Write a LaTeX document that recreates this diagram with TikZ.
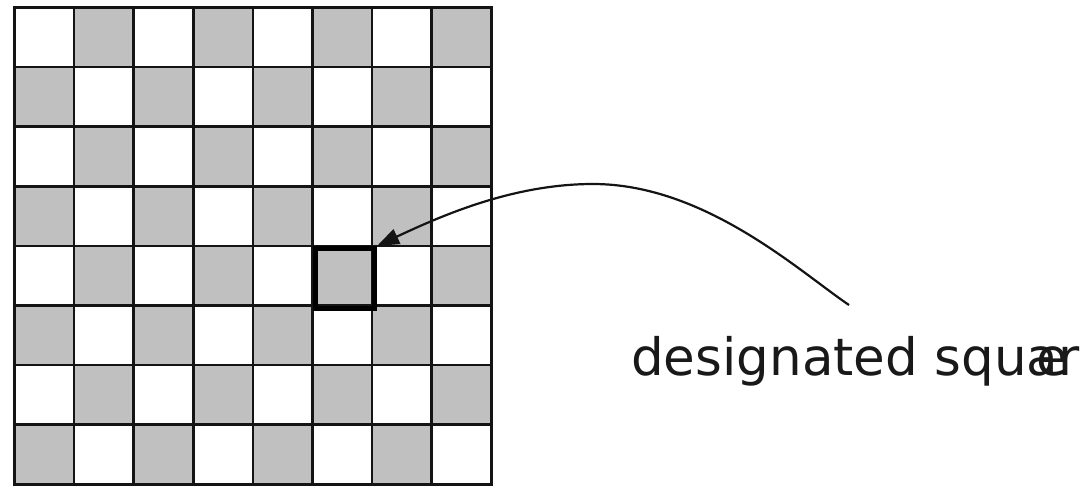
\documentclass[tikz,border=0pt]{standalone}
\usepackage{fontspec}
\setmainfont{DejaVu Sans}
\usetikzlibrary{arrows.meta}
\definecolor{boardgray}{RGB}{192,192,192}
\definecolor{inkline}{RGB}{20,20,20}
\begin{document}
\begin{tikzpicture}[x=1pt,y=-1pt,
  darkcell/.style={fill=boardgray},
  gridline/.style={line width=2.6pt,draw=inkline,line cap=rect},
  marked/.style={draw=black,line width=5pt,minimum size=59.6pt,inner sep=0pt,anchor=north west},
  labeltext/.style={anchor=base west,inner sep=0pt,font=\fontsize{51.5}{62}\selectfont,text=black!90},
  pointer/.style={draw=inkline,line width=2.2pt,-{Triangle[length=22pt,width=16pt]}}]
\useasboundingbox (0,0) rectangle (1089,485);
\def\bx{14.5}\def\by{7.5}\def\cs{59.6}
% board cells
\foreach \r in {0,...,7}{
  \foreach \c in {0,...,7}{
    \pgfmathtruncatemacro\parity{mod(\r+\c,2)}
    \ifnum\parity=1
      \fill[darkcell] (\bx+\c*\cs,\by+\r*\cs) rectangle (\bx+\c*\cs+\cs,\by+\r*\cs+\cs);
    \fi
  }
}
% grid lines
\foreach \i in {0,...,8}{
  \draw[gridline] (\bx+\i*\cs,\by) -- (\bx+\i*\cs,\by+8*\cs);
  \draw[gridline] (\bx,\by+\i*\cs) -- (\bx+8*\cs,\by+\i*\cs);
}
% highlighted square
\node[marked] (target) at (\bx+5*\cs,\by+4*\cs) {};
% caption
\node[labeltext] (caption) at (631,375) {designated squar};
\node[labeltext] (captione) at (1036,375) {e};
\coordinate (start) at (849,305);
\draw[pointer] (start) .. controls (800,272) and (705,184) .. (593,184)
  .. controls (515,184) and (445,214) .. (target.north east);
\end{tikzpicture}
\end{document}
